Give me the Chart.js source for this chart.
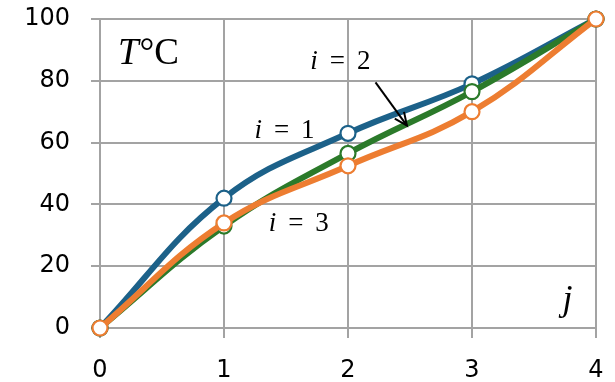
<!DOCTYPE html>
<html>
<head>
<meta charset="utf-8">
<script src="https://cdn.jsdelivr.net/npm/chart.js@4.4.1/dist/chart.umd.min.js"></script>
<style>
  html, body { margin: 0; padding: 0; background: #ffffff; }
  #wrap { width: 615px; height: 382px; }
</style>
</head>
<body>
<div id="wrap"><canvas id="chart" width="615" height="382"></canvas></div>
<script>
// Node index j and temperature T (°C) for three iterations i
const nodes = [0, 1, 2, 3, 4];
const tempI1 = [0, 42, 63, 79, 100];
const tempI2 = [0, 33, 56.5, 76.5, 100];
const tempI3 = [0, 34, 52.5, 70, 100];
const yTicks = [0, 20, 40, 60, 80, 100];

const toPoints = (vals) => nodes.map((x, k) => ({ x: x, y: vals[k] }));

const BLUE = '#1c6189';
const GREEN = '#2b7a2a';
const ORANGE = '#ed7d31';
const GRID = '#a3a3a3';

function series(label, vals, color, order) {
  return {
    label: label,
    data: toPoints(vals),
    borderColor: color,
    backgroundColor: '#ffffff',
    borderWidth: 6,
    tension: 0.4,
    clip: false,
    pointRadius: 7.5,
    pointBorderWidth: 2.2,
    pointBorderColor: color,
    pointBackgroundColor: '#ffffff',
    order: order
  };
}

// Math-style labels: italic variable + upright remainder
function mathLabel(ctx, x, y, italicPart, rest, size, gap) {
  ctx.save();
  ctx.fillStyle = '#000000';
  ctx.textBaseline = 'alphabetic';
  ctx.textAlign = 'left';
  ctx.font = 'italic ' + size + 'px "Liberation Serif", "DejaVu Serif", serif';
  ctx.fillText(italicPart, x, y);
  let w = ctx.measureText(italicPart).width;
  if (rest) {
    ctx.font = size + 'px "Liberation Serif", "DejaVu Serif", serif';
    let cx = x + w + gap;
    for (const part of rest) {
      ctx.fillText(part.t, cx, y);
      cx += ctx.measureText(part.t).width + part.g;
    }
  }
  ctx.restore();
}

const annotations = {
  id: 'annotations',
  afterDatasetsDraw(chart) {
    const ctx = chart.ctx;
    const xs = chart.scales.x, ys = chart.scales.y;
    const px = (v) => xs.getPixelForValue(v);
    const py = (v) => ys.getPixelForValue(v);

    // axis quantity labels
    mathLabel(ctx, px(0.145), py(85.5), 'T', [{ t: '°C', g: 0 }], 37, 1);
    mathLabel(ctx, px(3.73), py(5.9), 'j', null, 36, 0);

    // iteration labels
    mathLabel(ctx, px(1.245), py(61.5), 'i', [{ t: '=', g: 12 }, { t: '1', g: 0 }], 27, 12);
    mathLabel(ctx, px(1.695), py(83.8), 'i', [{ t: '=', g: 12 }, { t: '2', g: 0 }], 27, 12);
    mathLabel(ctx, px(1.36), py(31.3), 'i', [{ t: '=', g: 12 }, { t: '3', g: 0 }], 27, 12);

    // leader arrow from "i = 2" to its curve
    const x0 = px(2.222), y0 = py(79.5);
    const x1 = px(2.475), y1 = py(65.5);
    ctx.save();
    ctx.strokeStyle = '#000000';
    ctx.lineWidth = 2;
    ctx.beginPath();
    ctx.moveTo(x0, y0);
    ctx.lineTo(x1, y1);
    ctx.stroke();
    const ang = Math.atan2(y1 - y0, x1 - x0);
    const L = 14, spread = 0.42;
    ctx.beginPath();
    ctx.moveTo(x1 - L * Math.cos(ang - spread), y1 - L * Math.sin(ang - spread));
    ctx.lineTo(x1, y1);
    ctx.lineTo(x1 - L * Math.cos(ang + spread), y1 - L * Math.sin(ang + spread));
    ctx.stroke();
    ctx.restore();
  }
};

new Chart(document.getElementById('chart'), {
  type: 'line',
  data: {
    datasets: [
      series('i = 1', tempI1, BLUE, 3),
      series('i = 2', tempI2, GREEN, 2),
      series('i = 3', tempI3, ORANGE, 1)
    ]
  },
  options: {
    responsive: false,
    animation: false,
    devicePixelRatio: 1,
    layout: { padding: { top: 19, right: 19, left: 0, bottom: 0 } },
    plugins: {
      legend: { display: false },
      tooltip: { enabled: false }
    },
    scales: {
      x: {
        type: 'linear',
        min: 0, max: 4,
        afterBuildTicks(scale) { scale.ticks = nodes.map(v => ({ value: v })); },
        afterFit(scale) {
          scale.height = 54;
          scale.paddingLeft = 0;
          scale.paddingRight = 0;
        },
        grid: { color: GRID, lineWidth: 2, drawTicks: true, tickLength: 10 },
        border: { color: GRID, width: 2 },
        ticks: {
          color: '#000000',
          padding: 18,
          maxRotation: 0,
          font: { family: '"DejaVu Sans", sans-serif', size: 24 }
        }
      },
      y: {
        min: 0, max: 100,
        afterBuildTicks(scale) { scale.ticks = yTicks.map(v => ({ value: v })); },
        afterFit(scale) {
          scale.width = 100;
          scale.paddingTop = 0;
          scale.paddingBottom = 0;
        },
        grid: { color: GRID, lineWidth: 2, drawTicks: true, tickLength: 9 },
        border: { color: GRID, width: 2 },
        ticks: {
          color: '#000000',
          padding: 21,
          font: { family: '"DejaVu Sans", sans-serif', size: 24 }
        }
      }
    }
  },
  plugins: [annotations]
});
</script>
</body>
</html>
